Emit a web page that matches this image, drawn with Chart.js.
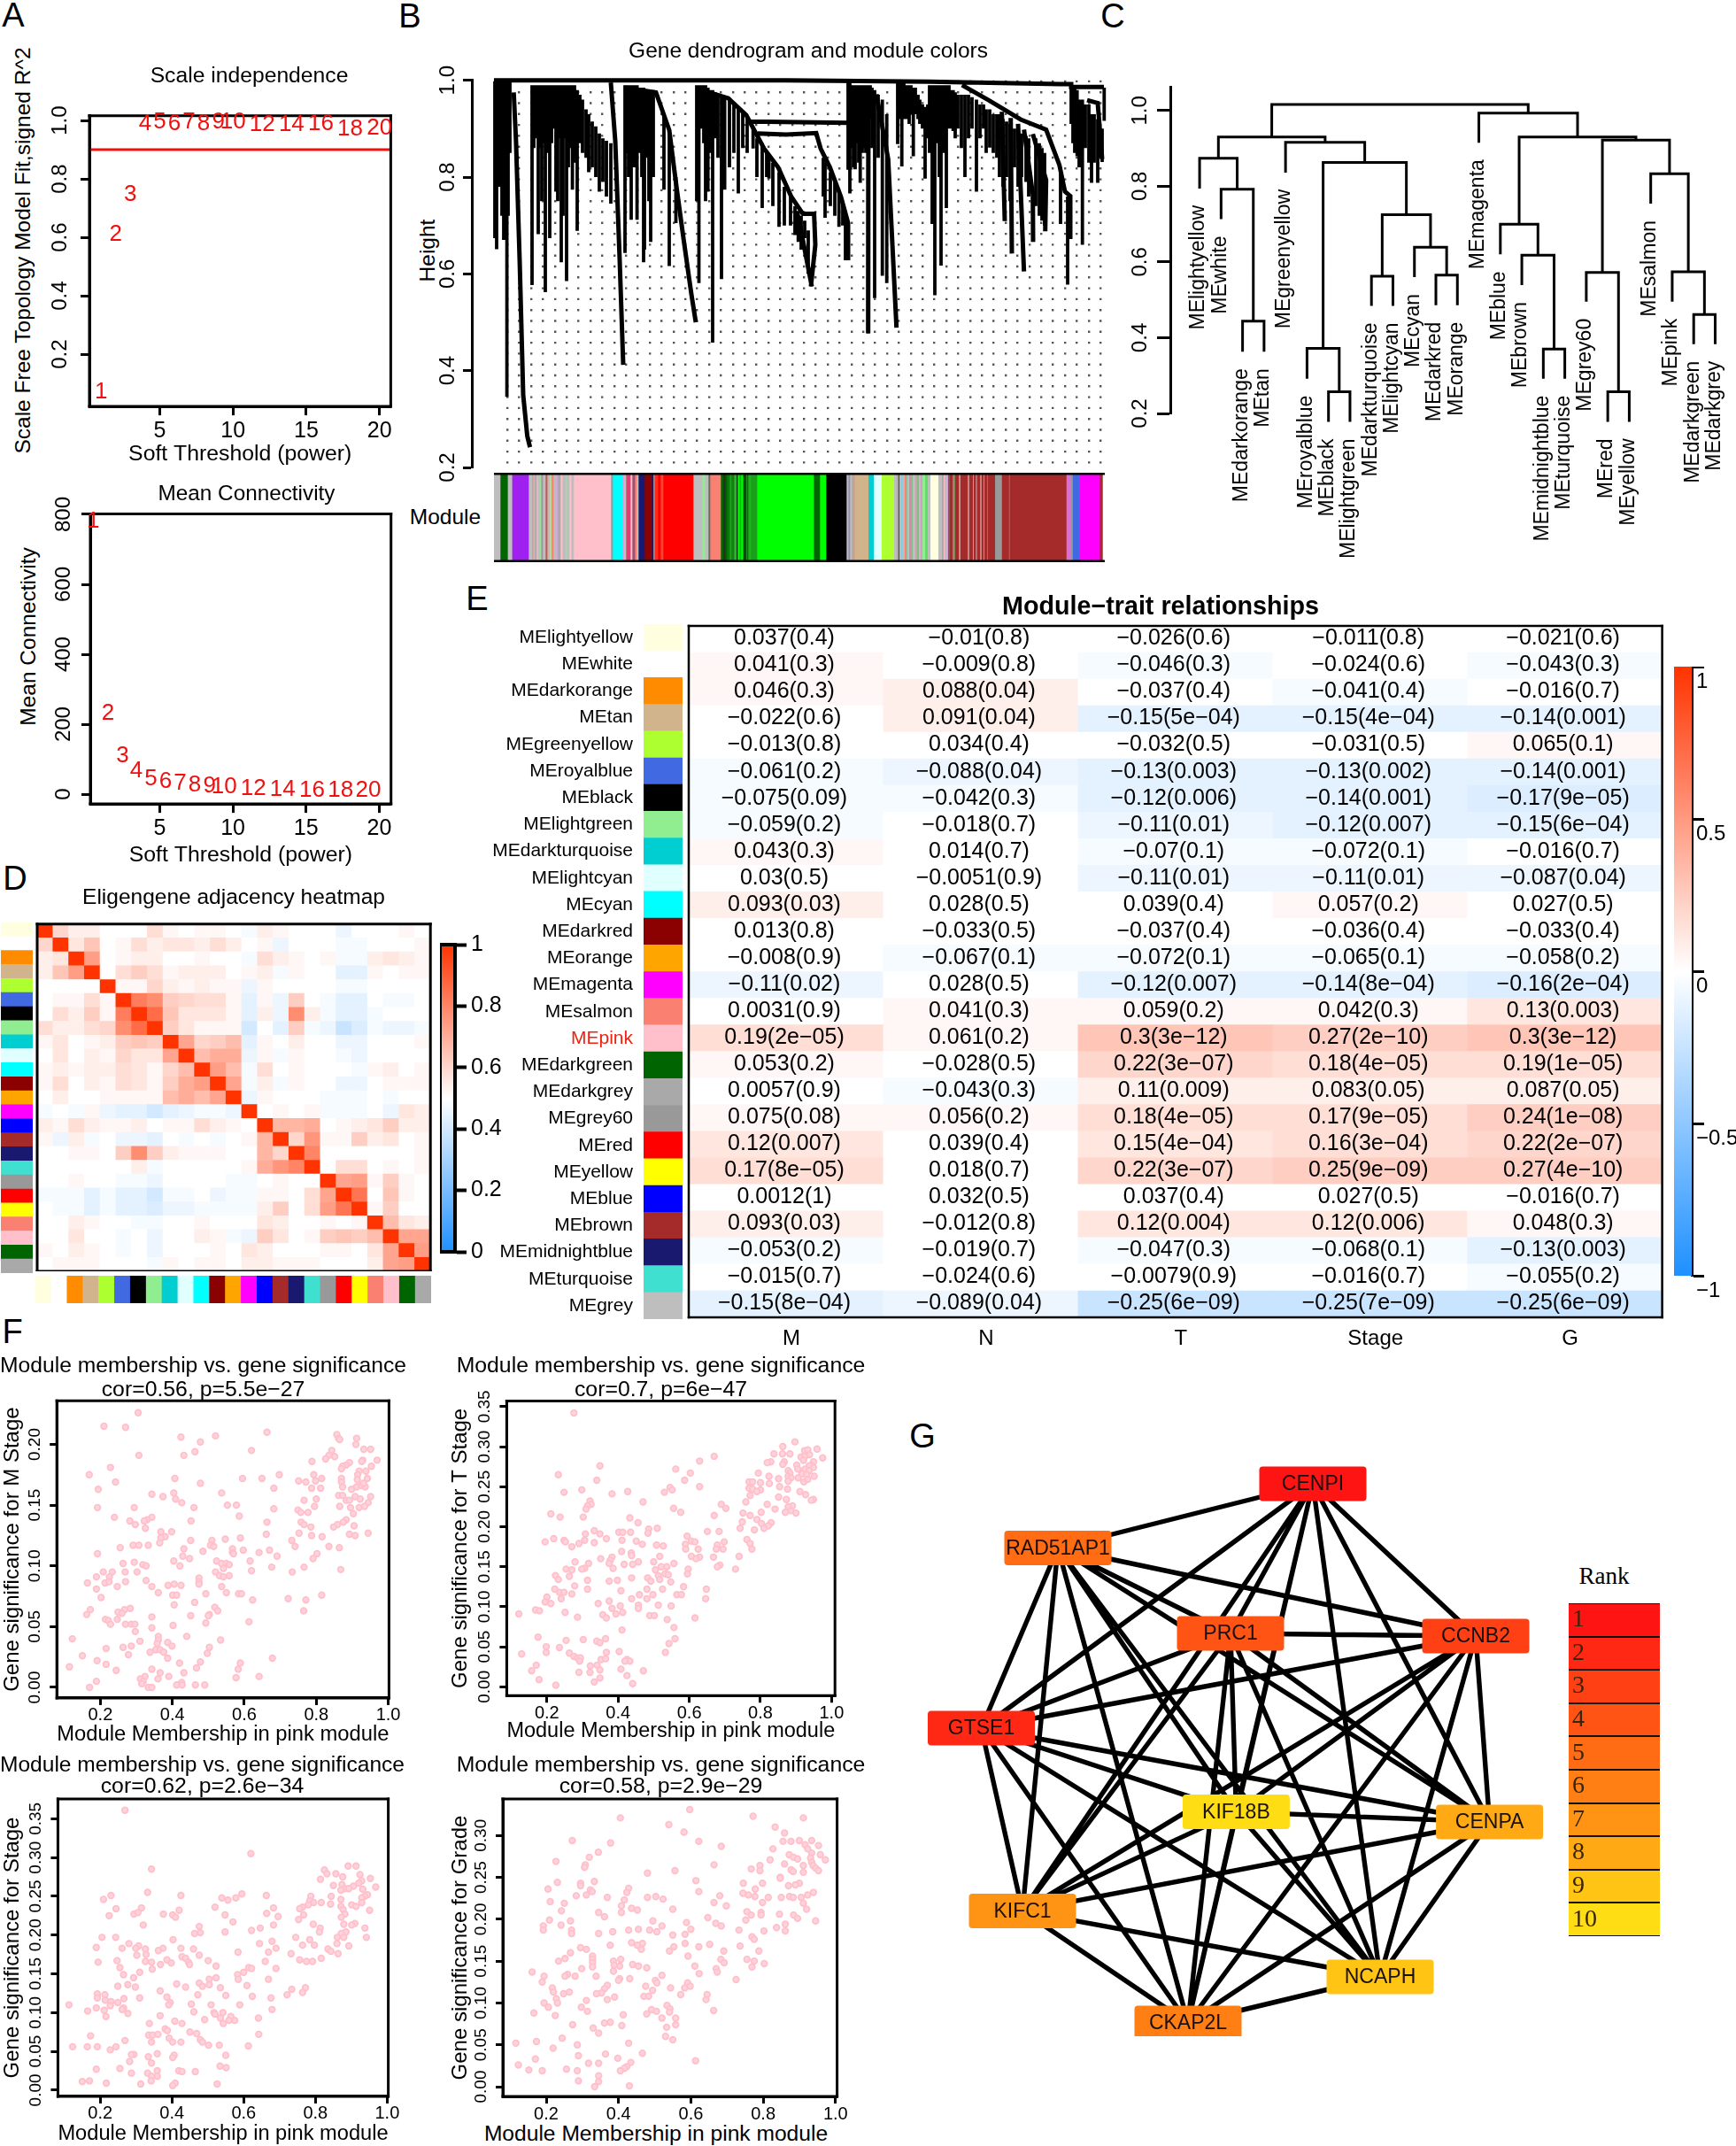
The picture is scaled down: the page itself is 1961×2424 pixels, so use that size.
<!DOCTYPE html>
<html>
<head>
<meta charset="utf-8">
<title>WGCNA figure</title>
<script src="https://cdn.jsdelivr.net/npm/chart.js@4"></script>
<style>
  html, body { margin: 0; padding: 0; background: #fff; }
  #page { position: relative; width: 1961px; height: 2424px; overflow: hidden; background: #fff; }
  #page canvas { position: absolute; }
  .note { position: absolute; white-space: nowrap; color: #000; font-family: "Liberation Sans", sans-serif; transform-origin: center; }
</style>
</head>
<body>
<div id="page"></div>
<script>
// ================= DATA: A =================
const softPowers = [1, 2, 3, 4, 5, 6, 7, 8, 9, 10, 12, 14, 16, 18, 20];
const scaleFitR2 = [0.07, 0.61, 0.746, 0.99, 0.995, 0.99, 0.995, 0.99, 0.995, 0.995, 0.985, 0.985, 0.99, 0.97, 0.975];
const meanConn = [780, 232, 110, 66, 45, 35, 31, 26, 23, 20, 17, 14, 12, 12, 10];
// the labels of the lower plot sit a little left of their power in the picture
const connLabelX = [0.45, 1.47, 2.46, 3.4, 4.4, 5.4, 6.4, 7.4, 8.4, 9.4, 11.4, 13.4, 15.4, 17.35, 19.25];
const r2Cutoff = 0.9;

// ================= DATA: B =================
// stems: x (gene order), top height, bottom height
const dendroStems = [
  [1,.998,.674],[3,.998,.651],[6,.998,.78],[9,.998,.72],[11,.998,.67],[14.6,.998,.346],[16,.998,.72],[18,.998,.85],
  [43,.99,.577],[45,.99,.86],[47,.99,.88],[50,.99,.682],[52,.99,.86],[54,.99,.75],[56,.99,.87],[58,.99,.562],[60,.99,.85],[63,.99,.674],
  [65,.99,.87],[68,.99,.9],[70,.99,.77],[72,.99,.75],[74,.99,.88],[76,.99,.624],[78,.99,.72],[80,.99,.88],[82,.99,.585],[84,.99,.82],
  [86,.99,.86],[88.6,.99,.774],[91,.99,.83],[94,.98,.689],[97,.97,.87],[100,.96,.85],[104,.94,.84],[107,.93,.81],[111,.915,.82],
  [115,.905,.8],[119,.89,.77],[123,.88,.79],[127,.875,.76],[132,.87,.745],
  [148,.99,.643],[150,.99,.85],[152,.99,.8],[155,.99,.712],[158,.99,.82],[161.6,.99,.712],[164,.985,.85],[167,.985,.8],[169,.985,.624],
  [170,.98,.65],[173,.98,.84],[175,.98,.75],[177,.98,.666],[180,.98,.8],[192,.93,.774],[198,.9,.616],[205.5,.8,.705],
  [229,.99,.75],[231.5,.99,.581],[234,.99,.9],[237,.99,.87],[239,.99,.75],[241.7,.985,.77],[244,.98,.85],[247,.98,.458],[250,.975,.88],
  [253,.97,.84],[257,.97,.589],[260.6,.965,.774],
  [266,.96,.82],[271,.95,.85],[276,.945,.766],[281,.935,.86],[286,.925,.85],[292.7,.9,.859],[297,.88,.8],[303,.87,.736],[308,.85,.8],
  [310.6,.84,.797],[315,.83,.74],[322,.81,.697],[328,.78,.7],[335,.76,.7],[340,.74,.68],[343.7,.73,.666],[347,.72,.65],[351,.71,.674],[355,.69,.6],
  [372,.84,.76],[374,.83,.716],[380,.81,.74],[385,.79,.72],[389.7,.77,.697],[394,.75,.7],[397,.73,.628],
  [400,.998,.815],[402,.998,.766],[404,.99,.86],[406,.99,.82],[408,.99,.816],[410,.99,.87],[412,.99,.83],[413.7,.99,.788],[416,.99,.85],
  [418,.99,.86],[420,.99,.85],[422.7,.99,.477],[425,.99,.92],[427,.985,.86],[430,.98,.55],[434,.97,.84],[438.7,.96,.596],[443.7,.93,.581],
  [456,.995,.868],[458,.995,.92],[460.7,.995,.822],[463,.995,.92],[466,.99,.92],[469,.99,.91],[471,.99,.93],[473.7,.985,.843],[476,.985,.93],
  [479,.97,.92],[481,.96,.91],[484,.95,.9],[487,.945,.797],[490,.95,.88],[492,.99,.85],[495,.99,.703],[498,.99,.556],[501,.99,.87],
  [503,.99,.8],[505,.99,.617],[508,.99,.85],[511,.99,.736],[514,.99,.9],[516,.98,.9],[518.7,.98,.895],[521,.975,.88],[524,.97,.9],
  [528,.97,.86],[532,.97,.8],[536,.97,.88],[540,.965,.9],[545,.96,.77],[549,.95,.88],[553,.95,.9],[556,.94,.85],[560,.94,.861],[564,.93,.85],
  [568,.93,.84],[571,.93,.8],[575,.92,.78],[579,.915,.8],[583,.91,.75],[588,.9,.82],[592,.9,.78],[596,.89,.8],[601,.885,.79],[604,.88,.76],
  [612,.88,.74],[616,.87,.72],[619,.86,.71],[622,.85,.7],[640,.82,.703],[648,.76,.578],[651,.76,.672],
  [652,.985,.91],[654,.985,.87],[656,.985,.85],[658.7,.98,.843],[661,.96,.82],[664.7,.96,.66],[668,.95,.86],[672,.95,.83],[675,.93,.788],
  [678,.93,.83],[682,.92,.788],[685,.9,.84],[687,.9,.831],[689.3,.985,.916]
];
// bent branches and the top links: [x, height] runs
const dendroCurves = [
  [[0,1],[330,1],[492,.997],[640,.992],[652,.992],[652,.986],[689,.986]],
  [[22.3,.975],[24.9,.874],[29,.628],[33,.35],[37.6,.265],[40.7,.242]],
  [[132,.995],[137,.875],[142,.628],[146,.412]],
  [[148,.985],[183,.975],[198,.897],[206,.782],[214,.674],[223,.558],[228,.5]],
  [[243,.975],[264.6,.963],[285,.928],[305,.859],[321,.82],[336,.759],[349,.724],[361.6,.724],[363,.66],[358,.574]],
  [[343.7,.72],[351,.65],[359,.574]],
  [[290,.915],[400,.912]],
  [[298,.89],[330,.888],[364,.891],[369,.859],[379.5,.82],[392,.759],[400,.705],[400,.628]],
  [[423,.985],[422.7,.477]],
  [[432,.971],[445.3,.837],[454.7,.489]],
  [[528.7,.99],[558.7,.959],[575,.941],[595,.919],[623.7,.898],[638.7,.825],[645,.77],[651,.761],[651,.672]],
  [[608.7,.889],[623.7,.794],[622.7,.688]],
  [[598.7,.898],[608.7,.764],[609,.666]],
  [[592,.91],[598.7,.605]],
  [[583.7,.922],[585,.642]],
  [[573.7,.935],[577,.709]],
  [[670,.959],[682,.953],[687,.837]]
];
const dendroGuideX = [15, 28, 42, 55, 69, 82, 95, 109, 122, 136, 149, 162, 176, 189, 203, 216, 229, 243, 256, 270, 283, 296, 310, 323, 337,
  350, 363, 377, 390, 404, 417, 430, 444, 457, 471, 484, 497, 511, 524, 538, 551, 564, 578, 591, 605, 618, 631, 645, 658, 672, 685];
const heightTicks = [0.2, 0.4, 0.6, 0.8, 1.0];
const stripColors = ['grey','darkgreen','grey','#A020F0',
  'grey','salmon','grey','darkgrey','pink','grey','lightgreen','grey60','grey','#c0566a','tan','grey','greenyellow','grey','salmon','grey','plum','darkgrey','pink','grey','lightgreen','grey','pink','grey',
  'pink','grey60','cyan','plum','grey','#e04070','pink','#a05070','salmon','grey','midnightblue','darkred','midnightblue','grey',
  '#ff2a1a','red','#ff4030','red','grey','lightgreen','grey','#607060','salmon',
  'darkgreen','#203020','darkgreen','#0a7a0a','#20a020','#108010','#30b030','black','lime','#00c000','lime','darkgreen','black','#109010','darkgreen','#20b020','#18a018',
  'lime','darkgreen','lime','black','grey','#9090b0','grey','darkgrey','#e0a080','tan','darkturquoise','lightcyan','greenyellow',
  'grey','darkgrey','#5a3a3a','grey','#80d0e0','grey','salmon','#80c0a0','grey','#d090a0','#80c090','grey','#d0a0b0','#80c080','grey','#d0a0c0','lightgreen','#60e060','grey',
  'lightyellow','grey','darkgrey','pink','grey','plum',
  '#8a5a4a','brown','#c07070','#7a8a50','brown','#a0a060','#d09090','brown','#c08a8a','brown','#c89090','brown','#b07070','brown','#c08080','brown','#c89090','brown','#8a7a50','brown',
  'grey60','brown','#c06060','brown','orchid','grey60','royalblue','magenta','brown'];
const stripWidths = [7,8.3,5,18.7,
  4,1,2,2,1,3,1,2,3,2,1,2,1,1,2,3,2,3,2,4,1,3,2,3,
  42,2,11,2,2,5,2,3,2,2,7,8,2,1,
  4,3,3,34,10,3,4,2,12,
  3,2,2,3,2,3,3,1,2,2,2,2,1,2,1,3,7,
  64,7,7,23,2,2,2,2,1.7,15,6,9,14,
  3,2,1,2,2,2,1,2,2,2,2,3,2,2,2,2,3,3,3,
  9,4,2,1,3,1,
  2,3,2,1,4,1,1,8,2,4,1,2,2,3,2,2,1,3,1,8,
  7.7,8,1,64,4.6,2.4,8,22.7,3.3];

// ================= DATA: C =================
const moduleLeaves = ['MElightyellow','MEwhite','MEdarkorange','MEtan','MEgreenyellow','MEroyalblue','MEblack','MElightgreen','MEdarkturquoise',
  'MElightcyan','MEcyan','MEdarkred','MEorange','MEmagenta','MEblue','MEbrown','MEmidnightblue','MEturquoise','MEgrey60','MEred','MEyellow',
  'MEsalmon','MEpink','MEdarkgreen','MEdarkgrey'];
const leafLow = [.794,.713,.363,.363,.836,.292,.178,.178,.484,.484,.56,.486,.486,.915,.62,.539,.292,.292,.495,.178,.178,.754,.495,.383,.383];
const moduleTree = [1.016,
  [.93, [.874,'MElightyellow',[.792,'MEwhite',[.444,'MEdarkorange','MEtan']]],
        [.916,'MEgreenyellow',[.863,[.372,'MEroyalblue',[.257,'MEblack','MElightgreen']],
                                    [.725,[.5625,'MEdarkturquoise','MElightcyan'],[.639,'MEcyan',[.5655,'MEdarkred','MEorange']]]]]],
  [.993,'MEmagenta',[.93,[.70,'MEblue',[.618,'MEbrown',[.37,'MEmidnightblue','MEturquoise']]],
                         [.922,[.5725,'MEgrey60',[.257,'MEred','MEyellow']],[.833,'MEsalmon',[.574,'MEpink',[.461,'MEdarkgreen','MEdarkgrey']]]]]]
];

// ================= DATA: D =================
const heatModules = ['lightyellow','white','darkorange','tan','greenyellow','royalblue','black','lightgreen','darkturquoise','lightcyan','cyan','darkred',
  'orange','magenta','blue','brown','midnightblue','turquoise','grey60','red','yellow','salmon','pink','darkgreen','darkgrey'];
const adjacency = [
  [1,.6,.55,.55,.5,.5,.5,.59,.53,.5,.53,.53,.5,.48,.55,.53,.5,.5,.5,.46,.5,.5,.5,.53,.5],
  [.6,1,.57,.64,.5,.53,.58,.55,.57,.57,.55,.58,.55,.5,.53,.46,.5,.5,.5,.48,.48,.5,.5,.5,.53],
  [.55,.57,1,.75,.5,.53,.55,.55,.5,.5,.53,.5,.5,.48,.59,.54,.53,.5,.53,.47,.48,.55,.57,.54,.53],
  [.55,.64,.75,1,.5,.58,.62,.58,.53,.55,.55,.55,.5,.53,.55,.48,.53,.5,.5,.44,.44,.53,.5,.53,.53],
  [.5,.5,.5,.5,1,.53,.53,.6,.55,.53,.55,.53,.53,.45,.53,.5,.5,.5,.5,.48,.48,.5,.5,.5,.5],
  [.5,.53,.53,.58,.53,1,.83,.78,.62,.6,.58,.58,.53,.43,.53,.46,.62,.5,.48,.43,.43,.5,.48,.48,.5],
  [.5,.58,.55,.62,.53,.83,1,.87,.65,.57,.57,.57,.53,.43,.55,.46,.78,.55,.48,.43,.43,.48,.5,.5,.5],
  [.59,.55,.55,.58,.6,.78,.87,1,.62,.57,.53,.53,.53,.39,.5,.44,.62,.48,.46,.38,.41,.48,.46,.46,.47],
  [.53,.57,.5,.53,.55,.62,.65,.62,1,.72,.6,.63,.66,.44,.53,.5,.55,.5,.5,.46,.46,.5,.5,.5,.53],
  [.5,.57,.5,.55,.53,.6,.57,.57,.72,1,.67,.7,.7,.45,.53,.48,.53,.5,.5,.48,.46,.5,.5,.5,.5],
  [.53,.55,.53,.55,.55,.58,.57,.53,.6,.67,1,.75,.66,.47,.58,.5,.53,.5,.5,.5,.47,.53,.54,.5,.53],
  [.53,.58,.5,.55,.53,.58,.57,.53,.63,.7,.75,1,.72,.48,.54,.48,.53,.5,.5,.46,.46,.5,.53,.53,.53],
  [.5,.55,.5,.5,.53,.53,.53,.53,.66,.7,.66,.72,1,.45,.53,.5,.5,.5,.48,.47,.48,.5,.48,.5,.5],
  [.48,.5,.48,.53,.45,.43,.43,.39,.44,.45,.47,.48,.45,1,.5,.53,.5,.53,.48,.48,.48,.5,.45,.57,.55],
  [.55,.53,.59,.55,.53,.53,.55,.5,.53,.53,.58,.54,.53,.5,1,.68,.68,.7,.5,.53,.55,.57,.62,.55,.55],
  [.53,.46,.54,.48,.5,.46,.46,.44,.5,.48,.5,.48,.5,.53,.68,1,.6,.77,.53,.53,.63,.55,.57,.5,.53],
  [.5,.5,.53,.53,.5,.62,.78,.62,.55,.53,.53,.53,.5,.5,.68,.6,1,.8,.5,.5,.5,.5,.5,.5,.53],
  [.5,.5,.5,.5,.5,.5,.55,.48,.5,.5,.5,.5,.5,.53,.7,.77,.8,1,.5,.58,.59,.5,.53,.5,.53],
  [.5,.5,.53,.5,.5,.48,.48,.46,.5,.5,.5,.5,.48,.48,.5,.53,.5,.5,1,.72,.75,.53,.63,.53,.5],
  [.47,.48,.47,.44,.48,.43,.43,.39,.47,.48,.5,.46,.47,.48,.53,.53,.5,.58,.72,1,.85,.5,.64,.53,.5],
  [.5,.48,.48,.44,.48,.43,.43,.41,.46,.46,.48,.47,.48,.48,.55,.63,.5,.59,.75,.85,1,.53,.63,.5,.5],
  [.5,.5,.55,.53,.5,.5,.48,.48,.5,.5,.53,.5,.5,.5,.57,.55,.5,.5,.53,.5,.53,1,.66,.57,.55],
  [.5,.5,.57,.5,.5,.48,.5,.46,.5,.5,.54,.53,.48,.45,.62,.57,.5,.53,.63,.64,.63,.66,1,.73,.73],
  [.53,.5,.54,.53,.5,.48,.5,.46,.5,.5,.5,.53,.5,.57,.55,.5,.5,.5,.53,.53,.5,.57,.73,1,.75],
  [.5,.53,.53,.53,.5,.5,.5,.47,.53,.5,.53,.53,.5,.55,.55,.53,.53,.53,.5,.5,.5,.55,.73,.75,1]
];
const adjacencyTicks = [0, 0.2, 0.4, 0.6, 0.8, 1];

// ================= DATA: E =================
const traits = ['M', 'N', 'T', 'Stage', 'G'];
const traitModules = ['MElightyellow','MEwhite','MEdarkorange','MEtan','MEgreenyellow','MEroyalblue','MEblack','MElightgreen','MEdarkturquoise','MElightcyan',
  'MEcyan','MEdarkred','MEorange','MEmagenta','MEsalmon','MEpink','MEdarkgreen','MEdarkgrey','MEgrey60','MEred','MEyellow','MEblue','MEbrown','MEmidnightblue','MEturquoise','MEgrey'];
const traitCells = [
  ['0.037(0.4)','−0.01(0.8)','−0.026(0.6)','−0.011(0.8)','−0.021(0.6)'],
  ['0.041(0.3)','−0.009(0.8)','−0.046(0.3)','−0.024(0.6)','−0.043(0.3)'],
  ['0.046(0.3)','0.088(0.04)','−0.037(0.4)','−0.041(0.4)','−0.016(0.7)'],
  ['−0.022(0.6)','0.091(0.04)','−0.15(5e−04)','−0.15(4e−04)','−0.14(0.001)'],
  ['−0.013(0.8)','0.034(0.4)','−0.032(0.5)','−0.031(0.5)','0.065(0.1)'],
  ['−0.061(0.2)','−0.088(0.04)','−0.13(0.003)','−0.13(0.002)','−0.14(0.001)'],
  ['−0.075(0.09)','−0.042(0.3)','−0.12(0.006)','−0.14(0.001)','−0.17(9e−05)'],
  ['−0.059(0.2)','−0.018(0.7)','−0.11(0.01)','−0.12(0.007)','−0.15(6e−04)'],
  ['0.043(0.3)','0.014(0.7)','−0.07(0.1)','−0.072(0.1)','−0.016(0.7)'],
  ['0.03(0.5)','−0.0051(0.9)','−0.11(0.01)','−0.11(0.01)','−0.087(0.04)'],
  ['0.093(0.03)','0.028(0.5)','0.039(0.4)','0.057(0.2)','0.027(0.5)'],
  ['0.013(0.8)','−0.033(0.5)','−0.037(0.4)','−0.036(0.4)','−0.033(0.4)'],
  ['−0.008(0.9)','−0.067(0.1)','−0.072(0.1)','−0.065(0.1)','−0.058(0.2)'],
  ['−0.11(0.02)','0.028(0.5)','−0.12(0.007)','−0.14(8e−04)','−0.16(2e−04)'],
  ['0.0031(0.9)','0.041(0.3)','0.059(0.2)','0.042(0.3)','0.13(0.003)'],
  ['0.19(2e−05)','0.061(0.2)','0.3(3e−12)','0.27(2e−10)','0.3(3e−12)'],
  ['0.053(0.2)','−0.028(0.5)','0.22(3e−07)','0.18(4e−05)','0.19(1e−05)'],
  ['0.0057(0.9)','−0.043(0.3)','0.11(0.009)','0.083(0.05)','0.087(0.05)'],
  ['0.075(0.08)','0.056(0.2)','0.18(4e−05)','0.17(9e−05)','0.24(1e−08)'],
  ['0.12(0.007)','0.039(0.4)','0.15(4e−04)','0.16(3e−04)','0.22(2e−07)'],
  ['0.17(8e−05)','0.018(0.7)','0.22(3e−07)','0.25(9e−09)','0.27(4e−10)'],
  ['0.0012(1)','0.032(0.5)','0.037(0.4)','0.027(0.5)','−0.016(0.7)'],
  ['0.093(0.03)','−0.012(0.8)','0.12(0.004)','0.12(0.006)','0.048(0.3)'],
  ['−0.053(0.2)','−0.019(0.7)','−0.047(0.3)','−0.068(0.1)','−0.13(0.003)'],
  ['−0.015(0.7)','−0.024(0.6)','−0.0079(0.9)','−0.016(0.7)','−0.055(0.2)'],
  ['−0.15(8e−04)','−0.089(0.04)','−0.25(6e−09)','−0.25(7e−09)','−0.25(6e−09)']
];
const corTicks = [-1, -0.5, 0, 0.5, 1];

// ================= DATA: F =================
const mmTicks = [0.2, 0.4, 0.6, 0.8, 1.0];
const gsMStage = [[.305,.226],[.21,.215],[.27,.214],[.424,.206],[.52,.207],[.663,.21],[.478,.202],[.857,.208],[.862,.205],[.865,.204],[.912,.205],[.91,.2],[.951,.196],[.932,.196],[.62,.195],[.463,.194],[.432,.191],[.307,.191],[.843,.195],[.835,.191],[.851,.19],[.826,.188],[.788,.186],[.969,.187],[.929,.187],[.926,.186],[.892,.185],[.883,.183],[.873,.182],[.87,.18],[.228,.181],[.953,.182],[.938,.178],[.919,.178],[.915,.175],[.914,.171],[.169,.175],[.697,.175],[.793,.175],[.407,.172],[.595,.172],[.649,.172],[.751,.17],[.798,.17],[.771,.169],[.815,.172],[.478,.168],[.242,.169],[.87,.172],[.87,.169],[.942,.172],[.873,.165],[.194,.163],[.682,.164],[.787,.164],[.812,.164],[.898,.163],[.912,.165],[.926,.166],[.936,.165],[.931,.168],[.343,.159],[.404,.16],[.537,.16],[.374,.157],[.409,.155],[.426,.152],[.862,.158],[.873,.158],[.951,.157],[.908,.157],[.922,.155],[.766,.154],[.8,.155],[.883,.154],[.892,.154],[.944,.152],[.294,.148],[.192,.148],[.46,.148],[.553,.15],[.578,.15],[.865,.149],[.895,.148],[.919,.148],[.934,.149],[.682,.147],[.795,.149],[.749,.146],[.757,.144],[.777,.144],[.239,.14],[.343,.14],[.33,.138],[.322,.137],[.282,.137],[.297,.134],[.452,.137],[.586,.141],[.663,.136],[.903,.143],[.883,.138],[.875,.136],[.859,.134],[.848,.132],[.758,.136],[.766,.134],[.905,.133],[.325,.131],[.368,.128],[.398,.128],[.785,.132],[.752,.127],[.661,.126],[.787,.125],[.816,.124],[.892,.126],[.908,.125],[.944,.127],[.38,.124],[.368,.123],[.451,.121],[.51,.121],[.547,.122],[.589,.123],[.365,.119],[.732,.121],[.506,.117],[.515,.116],[.291,.117],[.307,.117],[.333,.117],[.255,.115],[.432,.114],[.835,.116],[.741,.116],[.864,.115],[.567,.114],[.67,.113],[.567,.111],[.485,.112],[.597,.113],[.641,.111],[.192,.11],[.691,.108],[.802,.11],[.791,.106],[.429,.108],[.57,.11],[.448,.106],[.404,.104],[.523,.104],[.616,.104],[.263,.102],[.294,.103],[.318,.101],[.327,.1],[.421,.1],[.537,.102],[.55,.102],[.558,.101],[.766,.099],[.676,.099],[.542,.098],[.62,.096],[.269,.095],[.302,.095],[.208,.095],[.233,.095],[.52,.095],[.733,.095],[.868,.097],[.189,.091],[.225,.091],[.531,.092],[.558,.092],[.542,.091],[.474,.09],[.474,.087],[.164,.086],[.213,.086],[.224,.087],[.27,.087],[.327,.088],[.388,.084],[.405,.085],[.424,.084],[.247,.083],[.343,.083],[.537,.083],[.189,.081],[.474,.085],[.361,.078],[.55,.078],[.401,.076],[.412,.076],[.493,.077],[.584,.077],[.592,.077],[.815,.076],[.202,.074],[.623,.072],[.722,.073],[.771,.072],[.462,.07],[.405,.068],[.518,.066],[.172,.064],[.283,.065],[.267,.064],[.526,.063],[.765,.063],[.162,.06],[.249,.062],[.26,.061],[.451,.059],[.503,.06],[.5,.059],[.343,.058],[.214,.056],[.222,.055],[.247,.056],[.228,.052],[.27,.052],[.286,.052],[.296,.052],[.493,.053],[.613,.054],[.402,.051],[.343,.049],[.297,.046],[.44,.042],[.122,.04],[.361,.042],[.361,.039],[.534,.039],[.31,.038],[.387,.037],[.399,.034],[.358,.036],[.263,.033],[.286,.034],[.216,.032],[.503,.033],[.354,.031],[.366,.031],[.338,.029],[.376,.029],[.497,.028],[.278,.027],[.15,.026],[.387,.024],[.678,.024],[.191,.022],[.478,.021],[.42,.02],[.216,.019],[.589,.02],[.114,.017],[.583,.015],[.244,.014],[.343,.015],[.467,.016],[.432,.012],[.366,.012],[.39,.009],[.641,.009],[.324,.009],[.311,.007],[.577,.008],[.36,.007],[.189,.005],[.319,.005],[.426,.004],[.315,.003],[.464,.002],[.49,.002],[.412,.002],[.427,.002],[.333,0],[.343,0],[.17,0]];
const gsTStage = [[.276,.342],[.897,.306],[.863,.3],[.959,.297],[.924,.295],[.933,.296],[.838,.291],[.862,.291],[.883,.291],[.67,.288],[.975,.286],[.914,.287],[.925,.288],[.938,.29],[.921,.283],[.867,.281],[.829,.281],[.629,.282],[.819,.28],[.949,.281],[.944,.277],[.349,.276],[.863,.278],[.902,.277],[.937,.276],[.949,.274],[.562,.272],[.878,.27],[.905,.272],[.925,.272],[.937,.27],[.883,.267],[.603,.267],[.794,.267],[.824,.263],[.951,.263],[.878,.263],[.917,.266],[.232,.265],[.93,.265],[.886,.261],[.851,.26],[.878,.257],[.906,.261],[.922,.256],[.34,.258],[.587,.258],[.768,.256],[.778,.256],[.8,.255],[.825,.254],[.933,.259],[.629,.25],[.854,.25],[.546,.249],[.768,.248],[.778,.247],[.876,.247],[.298,.246],[.552,.246],[.8,.246],[.53,.243],[.248,.243],[.79,.244],[.427,.244],[.911,.244],[.383,.241],[.771,.239],[.927,.24],[.851,.237],[.949,.234],[.943,.233],[.873,.234],[.321,.232],[.47,.231],[.324,.228],[.314,.226],[.819,.228],[.759,.231],[.69,.228],[.89,.226],[.703,.223],[.878,.225],[.556,.223],[.31,.222],[.841,.222],[.576,.218],[.802,.218],[.886,.22],[.87,.218],[.751,.217],[.211,.216],[.67,.214],[.9,.217],[.771,.214],[.237,.212],[.302,.212],[.433,.211],[.79,.209],[.749,.206],[.456,.205],[.83,.205],[.743,.198],[.803,.204],[.822,.201],[.81,.198],[.783,.196],[.486,.197],[.51,.198],[.651,.194],[.684,.194],[.333,.195],[.402,.193],[.413,.193],[.435,.193],[.484,.192],[.349,.191],[.308,.191],[.594,.188],[.367,.185],[.219,.185],[.411,.183],[.762,.184],[.306,.183],[.248,.183],[.252,.181],[.451,.182],[.606,.182],[.616,.181],[.29,.179],[.333,.18],[.195,.181],[.698,.181],[.771,.179],[.468,.178],[.508,.177],[.527,.176],[.589,.178],[.679,.177],[.27,.175],[.776,.172],[.695,.172],[.625,.172],[.59,.172],[.676,.172],[.41,.169],[.437,.167],[.438,.164],[.606,.163],[.517,.163],[.629,.162],[.74,.163],[.668,.162],[.619,.16],[.351,.16],[.383,.162],[.378,.158],[.5,.156],[.279,.156],[.457,.156],[.441,.153],[.317,.154],[.375,.154],[.557,.154],[.686,.152],[.679,.15],[.537,.15],[.521,.15],[.417,.153],[.306,.148],[.386,.148],[.298,.147],[.254,.147],[.27,.146],[.597,.147],[.73,.147],[.505,.146],[.532,.141],[.541,.14],[.595,.141],[.513,.139],[.224,.139],[.263,.138],[.232,.134],[.438,.136],[.483,.136],[.314,.133],[.375,.132],[.398,.133],[.492,.132],[.517,.134],[.548,.131],[.584,.125],[.278,.126],[.314,.122],[.222,.122],[.481,.122],[.525,.122],[.648,.122],[.235,.118],[.248,.118],[.27,.116],[.408,.12],[.46,.115],[.498,.115],[.565,.115],[.578,.115],[.2,.112],[.438,.11],[.24,.11],[.481,.11],[.646,.11],[.195,.106],[.211,.104],[.344,.104],[.457,.102],[.375,.107],[.513,.102],[.406,.101],[.549,.101],[.383,.098],[.457,.098],[.168,.096],[.179,.095],[.251,.093],[.413,.093],[.394,.091],[.121,.091],[.357,.09],[.489,.089],[.502,.089],[.367,.086],[.286,.087],[.616,.086],[.538,.084],[.557,.074],[.411,.071],[.175,.062],[.365,.06],[.56,.06],[.254,.058],[.302,.059],[.34,.057],[.349,.055],[.235,.049],[.198,.05],[.543,.054],[.198,.043],[.129,.041],[.263,.042],[.367,.043],[.403,.044],[.533,.043],[.276,.038],[.286,.036],[.294,.036],[.352,.034],[.365,.035],[.425,.034],[.433,.032],[.292,.032],[.419,.032],[.17,.027],[.322,.026],[.341,.027],[.157,.02],[.349,.021],[.408,.022],[.471,.02],[.29,.018],[.321,.018],[.425,.014],[.178,.009],[.349,.011],[.333,.006],[.441,.004],[.225,.002]];
const gsStage = [[.269,.361],[.62,.305],[.343,.285],[.825,.284],[.891,.289],[.913,.289],[.832,.279],[.857,.279],[.876,.275],[.953,.273],[.814,.272],[.924,.278],[.968,.262],[.929,.27],[.85,.264],[.874,.265],[.332,.255],[.921,.267],[.906,.263],[.882,.26],[.871,.258],[.893,.26],[.932,.259],[.945,.252],[.937,.25],[.929,.248],[.23,.251],[.209,.246],[.425,.251],[.539,.248],[.595,.253],[.578,.248],[.556,.245],[.663,.251],[.787,.25],[.844,.25],[.871,.246],[.784,.244],[.795,.242],[.816,.242],[.842,.24],[.929,.242],[.901,.239],[.913,.237],[.52,.236],[.244,.234],[.315,.235],[.42,.232],[.78,.239],[.764,.236],[.756,.234],[.683,.235],[.871,.237],[.951,.232],[.402,.226],[.294,.227],[.305,.229],[.376,.227],[.41,.223],[.548,.226],[.225,.225],[.664,.228],[.696,.224],[.767,.226],[.877,.233],[.882,.227],[.872,.223],[.753,.22],[.57,.217],[.683,.213],[.32,.213],[.794,.214],[.91,.215],[.901,.213],[.879,.214],[.476,.211],[.646,.209],[.622,.206],[.813,.209],[.938,.209],[.548,.204],[.463,.202],[.479,.203],[.885,.204],[.811,.204],[.872,.202],[.205,.197],[.243,.197],[.745,.197],[.861,.197],[.942,.197],[.879,.197],[.784,.194],[.403,.194],[.28,.189],[.679,.192],[.644,.189],[.764,.187],[.307,.186],[.797,.187],[.86,.189],[.893,.186],[.189,.184],[.261,.183],[.299,.183],[.375,.183],[.425,.183],[.46,.182],[.69,.183],[.326,.182],[.362,.18],[.835,.182],[.843,.179],[.863,.176],[.584,.178],[.669,.178],[.732,.176],[.302,.174],[.328,.175],[.476,.174],[.428,.172],[.438,.17],[.386,.168],[.816,.17],[.247,.167],[.756,.168],[.775,.166],[.792,.166],[.194,.165],[.326,.166],[.343,.165],[.398,.164],[.368,.162],[.446,.165],[.449,.162],[.501,.167],[.66,.166],[.523,.16],[.255,.158],[.614,.158],[.622,.157],[.345,.156],[.69,.157],[.265,.149],[.31,.152],[.6,.152],[.583,.149],[.585,.143],[.293,.145],[.523,.145],[.504,.143],[.669,.143],[.277,.136],[.476,.138],[.413,.137],[.504,.136],[.609,.135],[.249,.134],[.298,.133],[.438,.133],[.485,.134],[.535,.132],[.772,.132],[.734,.13],[.367,.128],[.764,.126],[.721,.123],[.55,.122],[.192,.124],[.472,.123],[.386,.12],[.213,.123],[.624,.121],[.266,.118],[.31,.119],[.192,.119],[.676,.119],[.214,.116],[.23,.114],[.249,.113],[.395,.113],[.391,.11],[.228,.109],[.454,.111],[.509,.11],[.589,.11],[.113,.11],[.189,.106],[.265,.106],[.211,.103],[.165,.102],[.261,.104],[.679,.104],[.277,.099],[.461,.101],[.517,.1],[.52,.098],[.542,.1],[.216,.095],[.367,.096],[.564,.095],[.641,.093],[.491,.091],[.535,.093],[.559,.09],[.575,.09],[.408,.089],[.428,.086],[.337,.086],[.543,.086],[.381,.079],[.387,.077],[.45,.075],[.469,.073],[.642,.072],[.335,.071],[.346,.071],[.361,.072],[.173,.07],[.479,.065],[.392,.067],[.269,.064],[.402,.062],[.425,.062],[.343,.062],[.485,.062],[.502,.058],[.532,.058],[.123,.056],[.164,.056],[.192,.056],[.244,.056],[.613,.057],[.228,.052],[.406,.045],[.359,.047],[.55,.045],[.294,.046],[.287,.046],[.334,.043],[.402,.042],[.282,.037],[.343,.035],[.534,.031],[.551,.029],[.189,.027],[.255,.028],[.332,.022],[.287,.022],[.359,.025],[.419,.025],[.428,.024],[.465,.024],[.359,.018],[.343,.018],[.342,.012],[.15,.011],[.17,.012],[.217,.009],[.313,.008],[.409,.009],[.526,.008],[.402,.006]];
const gsGrade = [[.597,.331],[.405,.321],[.772,.323],[.911,.321],[.539,.313],[.833,.31],[.581,.304],[.859,.303],[.272,.294],[.622,.293],[.378,.291],[.855,.293],[.877,.293],[.9,.294],[.934,.294],[.684,.287],[.916,.289],[.953,.288],[.827,.284],[.923,.284],[.344,.28],[.319,.274],[.872,.277],[.934,.279],[.958,.277],[.884,.274],[.227,.269],[.819,.271],[.895,.272],[.931,.273],[.972,.271],[.308,.265],[.664,.265],[.859,.266],[.934,.268],[.306,.262],[.791,.264],[.911,.264],[.938,.264],[.767,.26],[.556,.258],[.791,.258],[.945,.261],[.877,.259],[.883,.257],[.953,.258],[.48,.255],[.847,.25],[.911,.256],[.847,.249],[.231,.244],[.333,.245],[.295,.243],[.614,.246],[.745,.243],[.798,.243],[.9,.243],[.87,.24],[.295,.24],[.889,.241],[.205,.236],[.428,.237],[.778,.236],[.622,.233],[.322,.235],[.327,.233],[.939,.232],[.744,.231],[.311,.229],[.283,.228],[.423,.232],[.48,.226],[.503,.227],[.523,.224],[.68,.228],[.759,.229],[.777,.227],[.814,.226],[.85,.226],[.873,.227],[.883,.226],[.369,.226],[.416,.223],[.923,.229],[.905,.226],[.911,.219],[.211,.221],[.25,.219],[.664,.22],[.798,.22],[.408,.216],[.436,.213],[.452,.211],[.698,.216],[.55,.212],[.92,.212],[.242,.21],[.345,.208],[.755,.209],[.794,.208],[.408,.208],[.361,.203],[.647,.202],[.845,.206],[.884,.205],[.767,.205],[.209,.199],[.267,.198],[.752,.199],[.794,.205],[.895,.201],[.945,.198],[.495,.198],[.588,.196],[.669,.195],[.684,.192],[.192,.192],[.241,.193],[.52,.192],[.861,.194],[.428,.187],[.455,.188],[.384,.185],[.27,.187],[.486,.187],[.506,.185],[.192,.187],[.6,.188],[.733,.187],[.802,.186],[.837,.19],[.861,.186],[.27,.183],[.345,.183],[.55,.181],[.584,.182],[.769,.179],[.775,.176],[.436,.172],[.377,.169],[.466,.171],[.584,.171],[.652,.17],[.622,.167],[.452,.169],[.463,.164],[.553,.167],[.541,.162],[.736,.168],[.295,.166],[.311,.164],[.788,.162],[.691,.162],[.267,.16],[.328,.156],[.592,.156],[.252,.153],[.755,.152],[.683,.152],[.234,.15],[.328,.152],[.386,.15],[.406,.152],[.775,.15],[.692,.148],[.803,.147],[.328,.148],[.439,.146],[.455,.144],[.478,.142],[.403,.144],[.388,.145],[.611,.144],[.769,.143],[.328,.143],[.298,.141],[.67,.141],[.386,.138],[.161,.137],[.673,.137],[.259,.134],[.252,.132],[.194,.132],[.623,.135],[.28,.132],[.338,.132],[.52,.133],[.403,.129],[.431,.129],[.4,.127],[.725,.128],[.502,.127],[.189,.125],[.506,.124],[.217,.118],[.369,.121],[.361,.117],[.475,.12],[.544,.118],[.591,.124],[.583,.118],[.598,.12],[.494,.115],[.353,.112],[.22,.113],[.264,.113],[.339,.111],[.248,.111],[.572,.11],[.645,.11],[.389,.107],[.47,.108],[.483,.108],[.369,.104],[.228,.105],[.642,.104],[.231,.1],[.311,.103],[.194,.1],[.206,.095],[.297,.095],[.534,.097],[.542,.093],[.314,.09],[.491,.092],[.505,.09],[.663,.091],[.541,.089],[.166,.088],[.413,.086],[.225,.085],[.478,.087],[.52,.082],[.558,.082],[.533,.071],[.377,.077],[.361,.076],[.273,.074],[.409,.073],[.558,.074],[.33,.07],[.345,.064],[.53,.06],[.244,.058],[.55,.056],[.173,.054],[.116,.052],[.286,.05],[.428,.052],[.219,.046],[.466,.04],[.364,.039],[.289,.037],[.17,.033],[.398,.034],[.317,.028],[.345,.028],[.613,.031],[.434,.029],[.123,.026],[.423,.024],[.416,.022],[.152,.02],[.189,.019],[.256,.021],[.286,.019],[.405,.019],[.345,.013],[.345,.006],[.289,.007],[.334,0],[.43,.001]];

// ================= DATA: G =================
const hubGenes = ['CENPI','RAD51AP1','PRC1','CCNB2','GTSE1','KIF18B','CENPA','KIFC1','NCAPH','CKAP2L'];
const hubLayoutX = [1483, 1195, 1390, 1667, 1108.5, 1396.4, 1682.6, 1155, 1559, 1342];
const hubLayoutY = [1676, 1748.5, 1845, 1848, 1952, 2046.6, 2058, 2158.6, 2233, 2285];
const hubRank = [1, 5, 4, 3, 2, 10, 8, 7, 9, 6];
const rankLabels = ['1','2','3','4','5','6','7','8','9','10'];
const rankColors = ['#ff1414','#ff2814','#ff4014','#ff5414','#ff6c14','#ff7f14','#ff9414','#ffaa14','#ffc414','#ffdd14'];

// ================= HELPERS =================
Chart.defaults.font.family = '"Liberation Sans", Arial, sans-serif';
Chart.defaults.color = '#000';
Chart.defaults.animation = false;
Chart.defaults.plugins.legend.display = false;
Chart.defaults.plugins.tooltip.enabled = false;

const page = document.getElementById('page');
const namedColors = { grey60: '#999999', darkgrey: '#A9A9A9', grey: '#BEBEBE' };
const colorOf = n => namedColors[n] || n;
const meColor = n => colorOf(n.replace(/^ME/, ''));

function note(text, cx, cy, size, extra = {}) {
    const el = document.createElement('div');
    el.className = 'note';
    el.textContent = text;
    el.style.left = cx + 'px';
    el.style.top = cy + 'px';
    el.style.fontSize = size + 'px';
    el.style.transform = `translate(-50%,-50%)${extra.rot ? ' rotate(' + extra.rot + 'deg)' : ''}`;
    if (extra.font) el.style.fontFamily = extra.font;
    if (extra.weight) el.style.fontWeight = extra.weight;
    page.appendChild(el);
}

// blue-white-red scale used by heatmaps D and E, in steps like the original
function heat(v) {
    const step = 0.04;
    const k = Math.sign(v) * Math.floor(Math.abs(v) / step + 1e-9) * step;
    if (k >= 0) return `rgb(255,${Math.round(255 - 204 * k)},${Math.round(255 - 255 * k)})`;
    return `rgb(${Math.round(255 + 225 * k)},${Math.round(255 + 111 * k)},255)`;
}

function hiddenAxis(extra = {}) {
    return Object.assign({ ticks: { display: false }, grid: { display: false }, border: { display: false } }, extra);
}

// R style axis: outward ticks, fixed tick list
function axis(min, max, tickVals, size, fmt, o = {}) {
    return {
        type: 'linear', min, max,
        afterBuildTicks: s => { s.ticks = tickVals.map(value => ({ value })); },
        ticks: Object.assign({ autoSkip: false, padding: o.pad === undefined ? 4 : o.pad, font: { size }, callback: fmt },
            o.rotated ? { minRotation: 90, maxRotation: 90, crossAlign: 'center' } : { maxRotation: 0 }, o.ticks || {}),
        grid: { drawOnChartArea: false, drawTicks: true, tickLength: o.tick === undefined ? 10 : o.tick, tickWidth: o.tickWidth || 3, tickColor: '#000' },
        border: { display: true, width: o.borderWidth || 3, color: '#000' },
        position: o.position,
        title: o.title ? { display: true, text: o.title.text, padding: 0, font: { size: o.title.size } } : undefined
    };
}

function frame(width, sides = ['top', 'right', 'bottom', 'left']) {
    return {
        id: 'frame',
        afterDatasetsDraw(chart) {
            const { ctx, chartArea: a } = chart;
            const segs = { top: [a.left, a.top, a.right, a.top], bottom: [a.left, a.bottom, a.right, a.bottom],
                left: [a.left, a.top, a.left, a.bottom], right: [a.right, a.top, a.right, a.bottom] };
            ctx.save();
            ctx.strokeStyle = '#000';
            ctx.lineWidth = width;
            ctx.lineCap = 'square';
            sides.forEach(s => {
                const p = segs[s];
                ctx.beginPath(); ctx.moveTo(p[0], p[1]); ctx.lineTo(p[2], p[3]); ctx.stroke();
            });
            ctx.restore();
        }
    };
}

// places a chart so its plot area lands on box a = {l,t,r,b}
function panel(a, o) {
    const lh = o.title ? (o.title.lh || 1.2) : 1.2;
    let ml = o.ml || 0, mb = o.mb || 0, mr = o.mr || 0;
    const pt = o.pt || 0;
    if (o.yTitle) ml = a.l - (o.yTitle.cx - o.yTitle.size * 0.6);
    if (o.xTitle) mb = o.xTitle.cy + o.xTitle.size * 0.6 - a.b;
    const left = a.l - ml;
    let top = a.t - pt, pb = 0;
    if (o.title) {
        const h = o.title.text.length * o.title.size * lh;
        top = o.title.cy - h / 2;
        pb = a.t - (o.title.cy + h / 2);
        mr = 2 * o.title.cx - left - a.r;
    }
    const cv = document.createElement('canvas');
    cv.width = Math.round(a.r + mr - left);
    cv.height = Math.round(a.b + mb - top);
    cv.style.left = left + 'px';
    cv.style.top = top + 'px';
    cv.style.zIndex = o.z || 1;
    page.appendChild(cv);
    const zero = s => { s.paddingLeft = s.paddingRight = s.paddingTop = s.paddingBottom = 0; };
    const x = Object.assign({}, o.x, { afterFit: s => { s.height = mb; zero(s); } });
    const y = Object.assign({}, o.y, { afterFit: s => { s.width = o.yRight ? mr : ml; zero(s); } });
    if (o.xTitle && !x.title) x.title = { display: true, text: o.xTitle.text, padding: 0, font: { size: o.xTitle.size } };
    if (o.yTitle && !y.title) y.title = { display: true, text: o.yTitle.text, padding: 0, font: { size: o.yTitle.size } };
    const scales = { x, y };
    // empty right-hand scale: keeps the room right of the plot inside the title's span
    if (!o.yRight && mr > 0) {
        scales.rightRoom = hiddenAxis({ axis: 'y', type: 'linear', position: 'right', afterFit: s => { s.width = mr; zero(s); } });
    }
    const plugins = {};
    if (o.title) plugins.title = { display: true, text: o.title.text, padding: { top: 0, bottom: pb },
        font: { size: o.title.size, weight: o.title.weight || 'normal', lineHeight: lh }, color: '#000' };
    return new Chart(cv, {
        type: o.type,
        data: o.data,
        options: {
            responsive: false, devicePixelRatio: 1, indexAxis: o.indexAxis || 'x',
            layout: { padding: { left: 0, top: pt, right: 0, bottom: 0 } },
            scales, plugins
        },
        plugins: o.plugins || []
    });
}

// segments with gaps, as one line dataset
function lineSet(runs, width, color = '#000') {
    const data = [];
    runs.forEach(run => {
        run.forEach(p => data.push({ x: p[0], y: p[1] }));
        data.push({ x: run[run.length - 1][0], y: NaN });
    });
    return { type: 'scatter', data, showLine: true, spanGaps: false, pointRadius: 0, borderColor: color, borderWidth: width, tension: 0, clip: false };
}

// ================= PANEL A =================
const redLabels = {
    id: 'redLabels',
    afterDatasetsDraw(chart) {
        const { ctx, scales: { x, y } } = chart;
        ctx.save();
        ctx.fillStyle = '#f01010';
        ctx.font = '26px "Liberation Sans"';
        ctx.textAlign = 'center';
        ctx.textBaseline = 'middle';
        chart.data.datasets[0].data.forEach((p, i) => ctx.fillText(String(softPowers[i]), x.getPixelForValue(p.x), y.getPixelForValue(p.y)));
        ctx.restore();
    }
};

panel({ l: 100.7, t: 131, r: 440.7, b: 459 }, {
    type: 'scatter', ml: 60,
    title: { text: ['Scale independence'], cx: 281, cy: 86, size: 24.7 },
    xTitle: { text: 'Soft Threshold (power)', cy: 513, size: 24.8 },
    x: axis(0.2, 20.77, [5, 10, 15, 20], 25, v => String(v), { pad: 3 }),
    y: axis(0.021, 1.016, [0.2, 0.4, 0.6, 0.8, 1.0], 24, v => v.toFixed(1), { rotated: true, pad: 6 }),
    data: { datasets: [
        { data: softPowers.map((p, i) => ({ x: p, y: scaleFitR2[i] })), pointRadius: 0 },
        Object.assign(lineSet([[[0.2, r2Cutoff], [20.77, r2Cutoff]]], 3, '#f01010'), { clip: true })
    ] },
    plugins: [frame(3), redLabels]
});
note('Scale Free Topology Model Fit,signed R^2', 26, 283, 24.5, { rot: -90 });

panel({ l: 101.7, t: 581, r: 441, b: 909 }, {
    type: 'scatter', ml: 60,
    title: { text: ['Mean Connectivity'], cx: 278, cy: 559, size: 24.3 },
    xTitle: { text: 'Soft Threshold (power)', cy: 967, size: 24.8 },
    x: axis(0.26, 20.8, [5, 10, 15, 20], 25, v => String(v), { pad: 3 }),
    y: axis(-27.8, 801, [0, 200, 400, 600, 800], 24, v => String(v), { rotated: true, pad: 0 }),
    data: { datasets: [{ data: connLabelX.map((px, i) => ({ x: px, y: meanConn[i] })), pointRadius: 0 }] },
    plugins: [frame(3), redLabels]
});
note('Mean Connectivity', 32, 719, 24.5, { rot: -90 });

// ================= PANEL B =================
panel({ l: 533, t: 91, r: 1248, b: 528 }, {
    type: 'scatter', ml: 63, mb: 24,
    title: { text: ['Gene dendrogram and module colors'], cx: 913, cy: 59, size: 24.5 },
    x: {
        type: 'linear', min: -25, max: 690,
        afterBuildTicks: s => { s.ticks = dendroGuideX.map(value => ({ value })); },
        ticks: { display: false, autoSkip: false },
        grid: { color: '#555', lineWidth: 2.4, drawTicks: false },
        border: { display: false, dash: [2.4, 9.9] }
    },
    y: axis(0.2, 1, heightTicks, 24, v => v.toFixed(1), { rotated: true, pad: 0 }),
    data: { datasets: [
        lineSet(dendroStems.map(s => [[s[0], s[1]], [s[0], s[2]]]), 3.8),
        lineSet(dendroCurves, 5)
    ] }
});
note('Height', 483, 283, 24.5, { rot: -90 });
note('Module', 503, 584, 24.5);

panel({ l: 558, t: 534, r: 1248, b: 635 }, {
    type: 'bar', indexAxis: 'y',
    x: hiddenAxis({ type: 'linear', min: 0, max: 690, stacked: true }),
    y: hiddenAxis({ stacked: true }),
    data: { labels: ['Module'], datasets: stripWidths.map((w, i) => ({
        data: [w], backgroundColor: colorOf(stripColors[i]), barPercentage: 1, categoryPercentage: 1, borderWidth: 0
    })) },
    plugins: [frame(5, ['top', 'bottom'])]
});

// ================= PANEL C =================
const treeRuns = [];
function walkTree(node) {
    if (typeof node === 'string') {
        const i = moduleLeaves.indexOf(node);
        return { x: i, y: leafLow[i] };
    }
    const l = walkTree(node[1]), r = walkTree(node[2]);
    treeRuns.push([[l.x, l.y], [l.x, node[0]], [r.x, node[0]], [r.x, r.y]]);
    return { x: (l.x + r.x) / 2, y: node[0] };
}
walkTree(moduleTree);

const leafLabels = {
    id: 'leafLabels',
    afterDatasetsDraw(chart) {
        const { ctx, scales: { x, y } } = chart;
        ctx.save();
        ctx.fillStyle = '#000';
        ctx.font = '23px "Liberation Sans"';
        ctx.textAlign = 'right';
        ctx.textBaseline = 'middle';
        moduleLeaves.forEach((name, i) => {
            ctx.save();
            ctx.translate(x.getPixelForValue(i) - 1, y.getPixelForValue(leafLow[i]) + 19);
            ctx.rotate(-Math.PI / 2);
            ctx.fillText(name, 0, 0);
            ctx.restore();
        });
        ctx.restore();
    }
};

panel({ l: 1321.6, t: 96.8, r: 1945, b: 466.3 }, {
    type: 'scatter', ml: 55, mb: 260, mr: 16,
    x: hiddenAxis({ type: 'linear', min: -1.363, max: 24.31 }),
    y: axis(0.2, 1.065, heightTicks, 24, v => v.toFixed(1), { rotated: true, pad: 1.5, tick: 15 }),
    data: { datasets: [lineSet(treeRuns, 3)] },
    plugins: [leafLabels]
});

// ================= PANEL D =================
function heatChart(a, o, rows, labels, toV) {
    const n = rows.length;
    return panel(a, Object.assign({
        type: 'bar',
        x: o.x || hiddenAxis({ stacked: true }),
        y: hiddenAxis({ type: 'linear', min: 0, max: n, stacked: true }),
        data: { labels, datasets: rows.slice().reverse().map(row => ({
            data: row.map(() => 1),
            backgroundColor: row.map(toV),
            barPercentage: 1, categoryPercentage: 1, borderWidth: 0
        })) }
    }, o));
}

heatChart({ l: 41.8, t: 1044, r: 486.4, b: 1436.7 }, {
    ml: 30,
    title: { text: ['Eligengene adjacency heatmap'], cx: 264, cy: 1015, size: 24.5 },
    plugins: [frame(3)]
}, adjacency, heatModules, v => heat(2 * v - 1));

panel({ l: 1.4, t: 1042, r: 37, b: 1438 }, {
    type: 'bar', indexAxis: 'y',
    x: hiddenAxis({ type: 'linear', min: 0, max: 1 }),
    y: hiddenAxis(),
    data: { labels: heatModules, datasets: [{ data: heatModules.map(() => 1), backgroundColor: heatModules.map(colorOf), barPercentage: 1, categoryPercentage: 1, borderWidth: 0 }] }
});
panel({ l: 40, t: 1441, r: 487, b: 1472 }, {
    type: 'bar',
    x: hiddenAxis(),
    y: hiddenAxis({ type: 'linear', min: 0, max: 1 }),
    data: { labels: heatModules, datasets: [{ data: heatModules.map(() => 1), backgroundColor: heatModules.map(colorOf), barPercentage: 1, categoryPercentage: 1, borderWidth: 0 }] }
});

function rampBar(a, o, lo, hi) {
    return panel(a, Object.assign({
        type: 'bar', yRight: true,
        x: hiddenAxis(),
        data: { labels: [''], datasets: [{
            data: [[lo, hi]], barPercentage: 1, categoryPercentage: 1, borderWidth: 0,
            backgroundColor(ctx) {
                const area = ctx.chart.chartArea;
                if (!area) return '#fff';
                const g = ctx.chart.ctx.createLinearGradient(0, area.bottom, 0, area.top);
                g.addColorStop(0, '#1e90ff');
                g.addColorStop(0.5, '#ffffff');
                g.addColorStop(1, '#ff3300');
                return g;
            }
        }] }
    }, o));
}

rampBar({ l: 497, t: 1067, r: 514, b: 1414 }, {
    mr: 60, mb: 20, pt: 20,
    y: axis(0, 1, adjacencyTicks, 25, v => String(v), { position: 'right', tick: 13, pad: 5, tickWidth: 4, borderWidth: 4 }),
    plugins: [frame(4)]
}, 0, 1);

// ================= PANEL E =================
const corValue = s => parseFloat(s.replace(/−/g, '-'));
const cellText = {
    id: 'cellText',
    afterDatasetsDraw(chart) {
        const { ctx } = chart;
        ctx.save();
        ctx.fillStyle = '#000';
        ctx.font = '25px "Liberation Sans"';
        ctx.textAlign = 'center';
        ctx.textBaseline = 'middle';
        chart.data.datasets.forEach((ds, i) => {
            const row = traitCells[traitCells.length - 1 - i];
            chart.getDatasetMeta(i).data.forEach((bar, j) => {
                const c = bar.getCenterPoint();
                ctx.fillText(row[j], c.x - 2, c.y - 0.5);
            });
        });
        ctx.restore();
    }
};

heatChart({ l: 778, t: 706.7, r: 1877.6, b: 1487.7 }, {
    ml: 80, mb: 44,
    title: { text: ['Module−trait relationships'], cx: 1311, cy: 686, size: 28.7, weight: 'bold' },
    x: { stacked: true, ticks: { font: { size: 24 }, padding: 10, labelOffset: 6, autoSkip: false, maxRotation: 0 }, grid: { display: false, drawTicks: false }, border: { display: false } },
    plugins: [frame(2.5), cellText]
}, traitCells, traits, s => heat(corValue(s)));

panel({ l: 727, t: 705, r: 771, b: 1490 }, {
    type: 'bar', indexAxis: 'y', ml: 200,
    x: hiddenAxis({ type: 'linear', min: 0, max: 1 }),
    y: { ticks: { autoSkip: false, padding: 12, font: { size: 21 }, color: c => c.tick.label === 'MEpink' ? '#ee2211' : '#000' },
         grid: { display: false, drawTicks: false }, border: { display: false } },
    data: { labels: traitModules, datasets: [{ data: traitModules.map(() => 1), backgroundColor: traitModules.map(meColor), barPercentage: 1, categoryPercentage: 1, borderWidth: 0 }] }
});

rampBar({ l: 1891, t: 753, r: 1911, b: 1441 }, {
    mr: 50, mb: 34,
    y: axis(-1, 1, corTicks, 24, v => String(v).replace('-', '−'), { position: 'right', tick: 14, pad: -9, ticks: { labelOffset: 17 } })
}, -1, 1);

// ================= PANEL F =================
function memberPlot(a, o) {
    const xLabel = 'Module Membership in pink module';
    if (o.xCx) note(xLabel, o.xCx, o.xCy, 24.6);
    return panel(a, {
        type: 'scatter',
        title: { text: ['Module membership vs. gene significance', o.cor], cx: o.titleCx, cy: o.titleCy, size: 24.8, lh: o.lh },
        mb: 60,
        xTitle: o.xCx ? undefined : { text: xLabel, cy: o.xCy, size: 24.6 },
        yTitle: { text: o.yLabel, cx: o.yCx, size: 24 },
        x: axis(o.xr[0], o.xr[1], mmTicks, 20, v => v.toFixed(1), { tick: 8, pad: 0 }),
        y: axis(o.yr[0], o.yr[1], o.yTicks, 19, v => v.toFixed(2), { rotated: true, tick: 8, pad: -2 }),
        data: { datasets: [{ data: o.points.map(p => ({ x: p[0], y: p[1] })), pointRadius: 3.3, borderWidth: 1.8, borderColor: 'pink', backgroundColor: '#ffd3dc' }] },
        plugins: [frame(3)]
    });
}

memberPlot({ l: 63.8, t: 1582.7, r: 438.8, b: 1918.7 }, {
    cor: 'cor=0.56, p=5.5e−27', titleCx: 229, titleCy: 1557, lh: 1.11, xCy: 1960, yCx: 14, yLabel: 'Gene significance for M Stage',
    xr: [.079, 1.002], yr: [-.0087, .2359], yTicks: [0, .05, .1, .15, .2], points: gsMStage
});
memberPlot({ l: 572, t: 1583, r: 942.6, b: 1916 }, {
    cor: 'cor=0.7, p=6e−47', titleCx: 746, titleCy: 1557, lh: 1.11, xCy: 1956, yCx: 520, yLabel: 'Gene significance for T Stage',
    xr: [.087, 1.0095], yr: [-.011, .357], yTicks: [0, .05, .1, .15, .2, .25, .3, .35], points: gsTStage
});
memberPlot({ l: 65, t: 2031.7, r: 438, b: 2367.7 }, {
    cor: 'cor=0.62, p=2.6e−34', titleCx: 228, titleCy: 2006, lh: 0.94, xCy: 2410, yCx: 14, yLabel: 'Gene significance for Stage',
    xr: [.082, 1.003], yr: [-.008, .3755], yTicks: [0, .05, .1, .15, .2, .25, .3, .35], points: gsStage
});
memberPlot({ l: 567.6, t: 2031.7, r: 945, b: 2368 }, {
    cor: 'cor=0.58, p=2.9e−29', titleCx: 746, titleCy: 2006, lh: 0.94, xCy: 2410, xCx: 741, yCx: 520, yLabel: 'Gene significance for Grade',
    xr: [.08, 1.0044], yr: [-.0116, .3436], yTicks: [0, .05, .1, .15, .2, .25, .3], points: gsGrade
});

// ================= PANEL G =================
// every pair of the ten hub genes is linked in the picture
const hubEdges = [];
hubGenes.forEach((a, i) => hubGenes.forEach((b, j) => {
    if (i < j) hubEdges.push([[hubLayoutX[i], hubLayoutY[i]], [hubLayoutX[j], hubLayoutY[j]]]);
}));

const hubBoxes = {
    id: 'hubBoxes',
    afterDatasetsDraw(chart) {
        const { ctx, scales: { x, y } } = chart;
        ctx.save();
        ctx.font = '23px "Liberation Sans"';
        ctx.textAlign = 'center';
        ctx.textBaseline = 'middle';
        hubGenes.forEach((g, i) => {
            const px = x.getPixelForValue(hubLayoutX[i]), py = y.getPixelForValue(hubLayoutY[i]);
            ctx.fillStyle = rankColors[hubRank[i] - 1];
            ctx.beginPath();
            ctx.roundRect(px - 60.5, py - 19.5, 121, 39, 4);
            ctx.fill();
            ctx.fillStyle = '#1a1010';
            ctx.fillText(g, px, py + 1);
        });
        ctx.restore();
    }
};

panel({ l: 1040, t: 1640, r: 1760, b: 2300 }, {
    type: 'scatter',
    x: hiddenAxis({ type: 'linear', min: 1040, max: 1760 }),
    y: hiddenAxis({ type: 'linear', min: 1640, max: 2300, reverse: true }),
    data: { datasets: [lineSet(hubEdges, 5.4)] },
    plugins: [hubBoxes]
});

panel({ l: 1772, t: 1811.4, r: 1875, b: 2187 }, {
    type: 'bar', indexAxis: 'y',
    x: hiddenAxis({ type: 'linear', min: 0, max: 1 }),
    y: { ticks: { mirror: true, padding: 4, z: 2, autoSkip: false, font: { family: '"Liberation Serif", serif', size: 28 }, color: '#3a2408' },
         grid: { offset: true, color: '#111', lineWidth: 2, drawTicks: false, z: 1 }, border: { display: false } },
    data: { labels: rankLabels, datasets: [{ data: rankLabels.map(() => 1), backgroundColor: rankColors, barPercentage: 1, categoryPercentage: 1, borderWidth: 0 }] }
});
note('Rank', 1812, 1780, 27, { font: '"Liberation Serif", serif' });

// ================= PANEL LETTERS =================
[['A', 15, 17], ['B', 463, 18], ['C', 1257, 18], ['D', 17, 992], ['E', 539, 676], ['F', 14, 1504], ['G', 1042, 1622]]
    .forEach(t => note(t[0], t[1], t[2], 38));
</script>
</body>
</html>
